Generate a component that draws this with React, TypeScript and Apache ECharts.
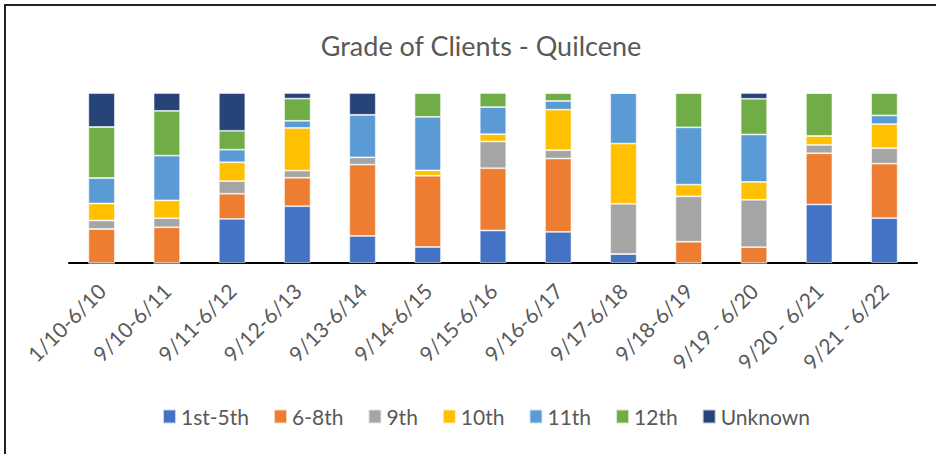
import React, { useEffect, useRef } from "react";
import * as echarts from "echarts";

const categories = [
  "1/10-6/10", "9/10-6/11", "9/11-6/12", "9/12-6/13", "9/13-6/14", "9/14-6/15",
  "9/15-6/16", "9/16-6/17", "9/17-6/18", "9/18-6/19", "9/19 - 6/20", "9/20 - 6/21", "9/21 - 6/22",
];

const grade1to5 = [0, 0, 25.9, 33.3, 15.9, 9.4, 19.1, 18.3, 5.3, 0, 0, 34.4, 26.4];
const grade6to8 = [20, 21, 14.8, 16.7, 41.9, 41.9, 36.6, 43.1, 0, 12.5, 9.3, 30.1, 32.1];
const grade9 = [5, 5.3, 7.4, 4.2, 4.3, 0, 15.7, 4.9, 29.5, 26.7, 27.9, 4.9, 9.1];
const grade10 = [10, 10.5, 11.1, 25, 0, 3.1, 4.3, 23.8, 35.4, 6.9, 10.5, 5.3, 14.2];
const grade11 = [15, 26.3, 7.4, 4.2, 25, 31.5, 15.9, 5.1, 29.7, 33.7, 27.9, 0, 5.1];
const grade12 = [30, 26.3, 11.1, 13, 0, 14, 8.3, 4.7, 0, 20.2, 21, 25.2, 13.2];
const unknown = [20, 10.5, 22.2, 3.3, 12.8, 0, 0, 0, 0, 0, 3.4, 0, 0];

const seriesNames = ["1st-5th", "6-8th", "9th", "10th", "11th", "12th", "Unknown"];
const seriesData = [grade1to5, grade6to8, grade9, grade10, grade11, grade12, unknown];
const colors = ["#4472C4", "#ED7D31", "#A5A5A5", "#FFC000", "#5B9BD5", "#70AD47", "#264478"];

const FONT = "Lato, 'Noto Sans', sans-serif";

export default function App() {
  const ref = useRef<HTMLDivElement>(null);
  useEffect(() => {
    if (!ref.current) return;
    const chart = echarts.init(ref.current, null, { renderer: "svg" });
    const totals = categories.map((_, i) => seriesData.reduce((s, arr) => s + arr[i], 0));
    chart.setOption({
      animation: false,
      textStyle: { fontFamily: FONT },
      title: {
        text: "Grade of Clients - Quilcene",
        left: 476,
        textAlign: "center",
        top: 27,
        textStyle: { fontFamily: FONT, fontSize: 27, fontWeight: "normal", color: "#595959" },
      },
      legend: {
        data: seriesNames,
        left: 157,
        top: 401,
        itemWidth: 13,
        itemHeight: 14,
        itemGap: 24,
        icon: "rect",
        textStyle: { fontFamily: FONT, fontSize: 21, color: "#595959" },
      },
      grid: { left: 69, right: 19, top: 93, bottom: 191, containLabel: false },
      xAxis: {
        type: "category",
        data: categories,
        axisLine: { lineStyle: { color: "#000", width: 2 } },
        axisTick: { show: false },
        axisLabel: { rotate: 45, interval: 0, margin: 24, fontFamily: FONT, fontSize: 21, color: "#595959" },
      },
      yAxis: { type: "value", min: 0, max: 100, show: false, splitLine: { show: false } },
      graphic: [
        { type: "line", shape: { x1: 4, y1: 5, x2: 936, y2: 5 }, style: { stroke: "#222", lineWidth: 2 } },
        { type: "line", shape: { x1: 5, y1: 4, x2: 5, y2: 454 }, style: { stroke: "#222", lineWidth: 2 } },
      ],
      series: seriesNames.map((name, si) => ({
        name,
        type: "bar",
        stack: "total",
        barWidth: 26.5,
        itemStyle: { color: colors[si], borderColor: "rgba(255,255,255,0.7)", borderWidth: 0.8 },
        data: seriesData[si].map((v, i) => (v / totals[i]) * 100),
      })),
    });
    return () => chart.dispose();
  }, []);
  return (
    <div style={{ position: "fixed", left: 0, top: 0, width: 936, height: 454, background: "#fff" }}>
      <div ref={ref} style={{ width: 936, height: 454 }} />
    </div>
  );
}
